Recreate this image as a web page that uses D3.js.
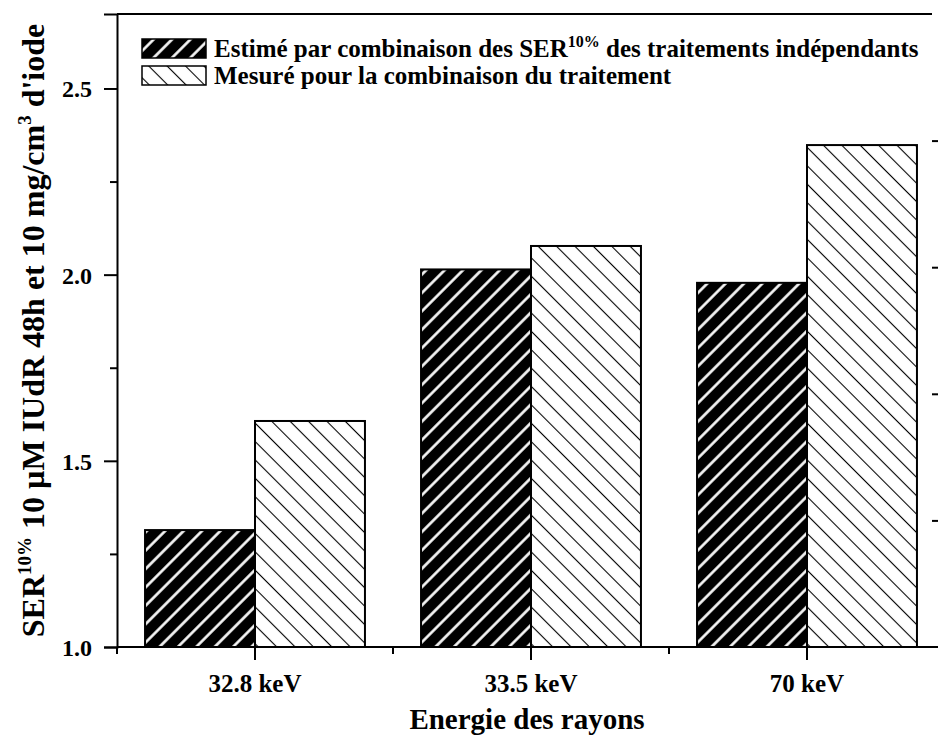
<!DOCTYPE html>
<html>
<head>
<meta charset="utf-8">
<script src="https://cdn.jsdelivr.net/npm/d3@7"></script>
<style>
  body { margin: 0; background: #fff; }
  svg { display: block; }
  text { font-family: "Liberation Serif", "Times New Roman", serif; font-weight: bold; fill: #000; }
</style>
</head>
<body>
<svg id="chart" width="938" height="742"></svg>
<script>
// Radiosensitisation data (SER at 10% survival)
const categories = ["32.8 keV", "33.5 keV", "70 keV"];
const seriesKeys = ["estime", "mesure"];
const estimated = [1.314, 2.014, 1.978];
const measured = [1.607, 2.077, 2.348];
const yTicks = [1.0, 1.5, 2.0, 2.5];
const yMinorTicks = [1.25, 1.75, 2.25];
const rightTicks = [1, 2, 3, 4];

const svg = d3.select("#chart");
const plotLeft = 117, plotRight = 945, plotTop = 14, plotBottom = 647;

const x0 = d3.scaleBand().domain(categories).range([plotLeft, plotRight]).padding(0);
const x1 = d3.scaleBand().domain(seriesKeys).range([0, x0.bandwidth()])
  .paddingInner(0).paddingOuter(0.255);
const y = d3.scaleLinear().domain([1.0, 2.7]).range([plotBottom, plotTop]);
const yRight = d3.scaleLinear().domain([0, 5]).range([plotBottom, plotTop]);

// hatch patterns
const defs = svg.append("defs");
const pDark = defs.append("pattern").attr("id", "hatchDark")
  .attr("patternUnits", "userSpaceOnUse").attr("width", 13).attr("height", 13)
  .attr("patternTransform", "rotate(45)");
pDark.append("rect").attr("width", 13).attr("height", 13).attr("fill", "#000");
pDark.append("line").attr("x1", 6.5).attr("x2", 6.5).attr("y1", -1).attr("y2", 14)
  .attr("stroke", "#fff").attr("stroke-width", 2.6);

const pLight = defs.append("pattern").attr("id", "hatchLight")
  .attr("patternUnits", "userSpaceOnUse").attr("width", 13).attr("height", 13)
  .attr("patternTransform", "rotate(-45)");
pLight.append("rect").attr("width", 13).attr("height", 13).attr("fill", "#fff");
pLight.append("line").attr("x1", 6.5).attr("x2", 6.5).attr("y1", -1).attr("y2", 14)
  .attr("stroke", "#000").attr("stroke-width", 1.1);

const fills = { estime: "url(#hatchDark)", mesure: "url(#hatchLight)" };

// bars
const rows = categories.map((c, i) => ({ cat: c, estime: estimated[i], mesure: measured[i] }));
const groups = svg.append("g").selectAll("g").data(rows).join("g")
  .attr("transform", d => `translate(${x0(d.cat)},0)`);
groups.selectAll("rect").data(d => seriesKeys.map(k => ({ key: k, value: d[k] }))).join("rect")
  .attr("x", d => x1(d.key))
  .attr("y", d => y(d.value))
  .attr("width", x1.bandwidth())
  .attr("height", d => y(1.0) - y(d.value))
  .attr("fill", d => fills[d.key])
  .attr("stroke", "#000").attr("stroke-width", 2);

// frame: top line
svg.append("line").attr("x1", plotLeft).attr("x2", 932).attr("y1", plotTop).attr("y2", plotTop)
  .attr("stroke", "#000").attr("stroke-width", 2);

// left axis
const yAxis = svg.append("g").attr("transform", `translate(${plotLeft},0)`)
  .call(d3.axisLeft(y).tickValues(yTicks).tickFormat(d3.format(".1f")).tickSize(13).tickPadding(12));
yAxis.select(".domain").attr("stroke-width", 2);
yAxis.selectAll(".tick line").attr("stroke-width", 2);
yAxis.selectAll(".tick text").style("font-size", "24px").attr("dy", "0.35em");
svg.append("g").attr("transform", `translate(${plotLeft},0)`)
  .call(d3.axisLeft(y).tickValues(yMinorTicks).tickFormat("").tickSize(7))
  .call(g => g.select(".domain").remove())
  .selectAll(".tick line").attr("stroke-width", 2);

// right ticks (unlabelled)
svg.append("g").attr("transform", "translate(932,0)")
  .call(d3.axisRight(yRight).tickValues(rightTicks).tickFormat("").tickSize(6))
  .call(g => g.select(".domain").remove())
  .selectAll(".tick line").attr("stroke-width", 2);

// bottom axis
const xAxis = svg.append("g").attr("transform", `translate(0,${plotBottom})`)
  .call(d3.axisBottom(x0).tickSize(13).tickPadding(14).tickSizeOuter(0));
xAxis.select(".domain").attr("d", `M${plotLeft},0H940`).attr("stroke-width", 2);
xAxis.selectAll(".tick line").attr("stroke-width", 2);
xAxis.selectAll(".tick text").style("font-size", "25px");
const boundaries = categories.map(c => x0(c));
svg.append("g").selectAll("line").data(boundaries).join("line")
  .attr("x1", d => d).attr("x2", d => d)
  .attr("y1", plotBottom).attr("y2", plotBottom + 7)
  .attr("stroke", "#000").attr("stroke-width", 2);

// axis titles
svg.append("text").attr("x", (plotLeft + plotRight) / 2 - 4).attr("y", 729)
  .attr("text-anchor", "middle").style("font-size", "29px").text("Energie des rayons");

const yt = svg.append("text")
  .attr("transform", `translate(44,${(plotTop + plotBottom) / 2}) rotate(-90)`)
  .attr("text-anchor", "middle").style("font-size", "32px");
yt.append("tspan").text("SER");
yt.append("tspan").attr("dy", -13).style("font-size", "19px").text("10%");
yt.append("tspan").attr("dy", 13).text(" 10 \u00b5M IUdR 48h et 10 mg/cm");
yt.append("tspan").attr("dy", -13).style("font-size", "19px").text("3");
yt.append("tspan").attr("dy", 13).text(" d'iode");

// legend
const legend = svg.append("g");
const legendRows = [
  { key: "estime", y: 39, parts: [["Estimé par combinaison des SER", 0], ["10%", 1], [" des traitements indépendants", 0]] },
  { key: "mesure", y: 66, parts: [["Mesuré pour la combinaison du traitement", 0]] }
];
legendRows.forEach(r => {
  legend.append("rect").attr("x", 142).attr("y", r.y).attr("width", 64).attr("height", 19)
    .attr("fill", fills[r.key]).attr("stroke", "#000").attr("stroke-width", 1.5);
  const t = legend.append("text").attr("x", 214).attr("y", r.y + 18).style("font-size", "25px");
  let raised = false;
  r.parts.forEach(([s, sup]) => {
    const ts = t.append("tspan").text(s);
    if (sup) { ts.attr("dy", -10).style("font-size", "16px"); raised = true; }
    else if (raised) { ts.attr("dy", 10); raised = false; }
  });
});
</script>
</body>
</html>
